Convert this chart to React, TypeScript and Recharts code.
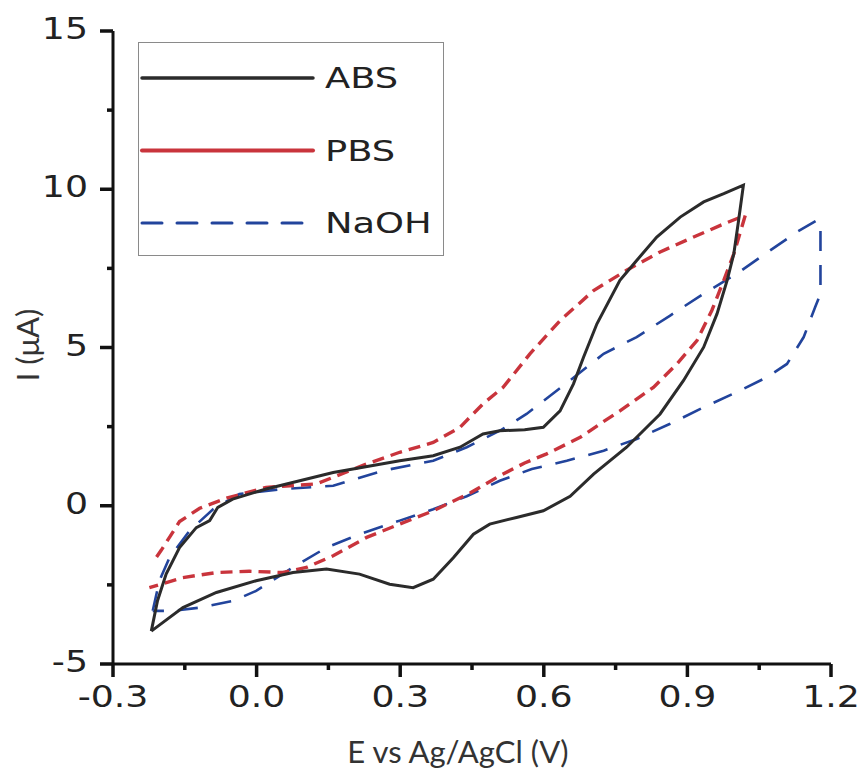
import React from 'react';
import { LineChart, Line, XAxis, YAxis } from 'recharts';

// Tick values
const xMajorTicks = [-0.3, 0, 0.3, 0.6, 0.9, 1.2];
const xAllTicks = [-0.3, -0.15, 0, 0.15, 0.3, 0.45, 0.6, 0.75, 0.9, 1.05, 1.2];
const yMajorTicks = [-5, 0, 5, 10, 15];
const yAllTicks = [-5, -2.5, 0, 2.5, 5, 7.5, 10, 12.5, 15];

// ABS (black, solid)
const absE = [
  -0.220, -0.207, -0.189, -0.161, -0.126, -0.098, -0.081, -0.050, 0.020, 0.160, 0.299, 0.369, 0.425, 0.473,
  0.508, 0.560, 0.599, 0.634, 0.662, 0.683, 0.711, 0.759, 0.794, 0.836, 0.885, 0.934, 0.976, 1.017,
  1.007, 0.997, 0.983, 0.962, 0.934, 0.892, 0.843, 0.773, 0.704, 0.655, 0.599, 0.543, 0.487, 0.453,
  0.411, 0.369, 0.327, 0.278, 0.215, 0.146, 0.076, -0.001, -0.084, -0.154, -0.220,
];
const absI = [
  -3.96, -3.00, -2.16, -1.32, -0.69, -0.47, -0.05, 0.21, 0.53, 1.05, 1.42, 1.58, 1.85, 2.27,
  2.37, 2.40, 2.48, 3.00, 3.85, 4.69, 5.75, 7.12, 7.75, 8.49, 9.12, 9.60, 9.86, 10.13,
  9.02, 7.96, 7.12, 6.07, 5.01, 3.96, 2.90, 1.85, 1.00, 0.30, -0.16, -0.37, -0.58, -0.90,
  -1.64, -2.32, -2.59, -2.48, -2.16, -2.00, -2.11, -2.37, -2.74, -3.22, -3.96,
];

// PBS (red, dashed)
const pbsE = [
  -0.209, -0.199, -0.180, -0.161, -0.119, -0.063, 0.020, 0.125, 0.230, 0.299, 0.369, 0.425, 0.473, 0.515,
  0.571, 0.634, 0.704, 0.773, 0.843, 0.913, 0.969, 1.021,
  0.997, 0.976, 0.951, 0.920, 0.878, 0.829, 0.759, 0.718, 0.676, 0.606, 0.560, 0.508, 0.446, 0.369,
  0.299, 0.230, 0.160, 0.104, 0.055, -0.015, -0.084, -0.154, -0.224,
];
const pbsI = [
  -1.62, -1.40, -0.95, -0.50, -0.08, 0.24, 0.58, 0.69, 1.32, 1.69, 2.00, 2.48, 3.22, 3.74,
  4.80, 5.85, 6.80, 7.44, 8.02, 8.49, 8.86, 9.18,
  7.96, 7.12, 6.17, 5.22, 4.48, 3.74, 3.00, 2.59, 2.16, 1.64, 1.35, 0.95, 0.40, -0.16,
  -0.58, -1.00, -1.58, -1.95, -2.11, -2.07, -2.11, -2.27, -2.59,
];

// NaOH (blue, dashed)
const naohE = [
  -0.217, -0.203, -0.182, -0.140, -0.091, -0.036, 0.055, 0.160, 0.264, 0.369, 0.439, 0.508, 0.564, 0.655,
  0.725, 0.794, 0.864, 0.934, 1.003, 1.073, 1.129, 1.171, 1.178, 1.178, 1.167, 1.143, 1.108, 1.066,
  1.003, 0.934, 0.864, 0.794, 0.725, 0.648, 0.575, 0.508, 0.439, 0.369, 0.299, 0.215, 0.146, 0.076,
  -0.001, -0.050, -0.119, -0.175, -0.217,
];
const naohI = [
  -3.32, -2.37, -1.64, -0.79, -0.11, 0.37, 0.53, 0.63, 1.11, 1.42, 1.85, 2.37, 2.90, 3.96,
  4.80, 5.33, 6.01, 6.70, 7.33, 8.07, 8.65, 9.02, 8.92, 6.70, 6.28, 5.33, 4.48, 4.06,
  3.59, 3.11, 2.59, 2.11, 1.74, 1.42, 1.16, 0.79, 0.30, -0.11, -0.47, -0.90, -1.32, -1.95,
  -2.69, -3.01, -3.22, -3.32, -3.32,
];

const toData = (e: number[], i: number[]) => e.map((v, k) => ({ e: v, i: i[k] }));
const absData = toData(absE, absI);
const pbsData = toData(pbsE, pbsI);
const naohData = toData(naohE, naohI);

const AXIS = '#111';
const C_ABS = '#2b2b2b';
const C_PBS = '#c9343c';
const C_NAOH = '#22449c';
const MAJOR = 13;

const isMajor = (list: number[], v: number) => list.some((m) => Math.abs(m - v) < 1e-6);

// (x, y) sits 2px (default tickMargin) past the outer end of the library's tick line.
// Minor ticks are shortened by masking their outer half with white.
const XTick = (props: any) => {
  const x = Number(props.x);
  const y = Number(props.y);
  const v = Number(props.payload?.value);
  const major = isMajor(xMajorTicks, v);
  if (!major) {
    return <rect x={x - 3} y={y - 9} width={6} height={9} fill="#fff" />;
  }
  return (
    <text
      transform={`translate(${x},${y + 28}) scale(1.17,1)`}
      textAnchor="middle"
      fontSize={31}
      fontFamily="DejaVu Sans"
      fill="#222"
    >
      {v.toFixed(1)}
    </text>
  );
};

const YTick = (props: any) => {
  const x = Number(props.x);
  const y = Number(props.y);
  const v = Number(props.payload?.value);
  const major = isMajor(yMajorTicks, v);
  if (!major) {
    return <rect x={x} y={y - 3} width={9} height={6} fill="#fff" />;
  }
  return (
    <text
      transform={`translate(${x - 10},${y + 8}) scale(1.17,1)`}
      textAnchor="end"
      fontSize={31}
      fontFamily="DejaVu Sans"
      fill="#222"
    >
      {String(v)}
    </text>
  );
};

const legendItems = [
  { name: 'ABS', color: C_ABS, dash: undefined as string | undefined, width: 3.5, x2: 175 },
  { name: 'PBS', color: C_PBS, dash: undefined as string | undefined, width: 4, x2: 175 },
  { name: 'NaOH', color: C_NAOH, dash: '20 15', width: 3, x2: 164 },
];

// Overlay: legend box and axis titles
const Overlay = () => (
  <svg
    width={855}
    height={761}
    style={{ position: 'absolute', left: 0, top: 0, pointerEvents: 'none' }}
  >
    <g transform="translate(130,34)">
      <rect x={0.5} y={0.5} width={305} height={213} fill="#fff" stroke="#8a8a8a" strokeWidth={1} />
      {legendItems.map((it, k) => {
        const cy = 36 + k * 72.5;
        return (
          <g key={it.name}>
            <line
              x1={4}
              x2={it.x2}
              y1={cy}
              y2={cy}
              stroke={it.color}
              strokeWidth={it.width}
              strokeDasharray={it.dash}
              strokeLinecap="round"
            />
            <text
              transform={`translate(187,${cy + 10}) scale(1.27,1)`}
              fontSize={29}
              fontFamily="DejaVu Sans"
              fill="#222"
            >
              {it.name}
            </text>
          </g>
        );
      })}
    </g>
    <text x={450} y={755} textAnchor="middle" fontSize={31} fontFamily="Lato" fill="#333">
      E vs Ag/AgCl (V)
    </text>
    <text
      transform="translate(31,337) rotate(-90)"
      textAnchor="middle"
      fontSize={31}
      fontFamily="Lato"
      fill="#333"
    >
      I (μA)
    </text>
  </svg>
);

export default function App() {
  return (
    <div style={{ position: 'absolute', left: 8, top: 8, width: 855, height: 761 }}>
      <LineChart width={855} height={761} margin={{ top: 23, right: 32, bottom: 45, left: 45 }}>
        <XAxis
          type="number"
          dataKey="e"
          domain={[-0.3, 1.2]}
          ticks={xAllTicks}
          interval={0}
          height={60}
          tickSize={MAJOR}
          tickLine={{ stroke: AXIS, strokeWidth: 3.5 }}
          tick={<XTick />}
          axisLine={{ stroke: AXIS, strokeWidth: 3 }}
        />
        <YAxis
          type="number"
          dataKey="i"
          domain={[-5, 15]}
          ticks={yAllTicks}
          interval={0}
          width={60}
          tickSize={MAJOR}
          tickLine={{ stroke: AXIS, strokeWidth: 3.5 }}
          tick={<YTick />}
          axisLine={{ stroke: AXIS, strokeWidth: 3 }}
        />
        <Line
          data={naohData}
          dataKey="i"
          type="linear"
          stroke={C_NAOH}
          strokeWidth={2.6}
          strokeDasharray="20 14"
          dot={false}
          isAnimationActive={false}
          name="NaOH"
        />
        <Line
          data={pbsData}
          dataKey="i"
          type="linear"
          stroke={C_PBS}
          strokeWidth={3.4}
          strokeDasharray="12 7"
          dot={false}
          isAnimationActive={false}
          name="PBS"
        />
        <Line
          data={absData}
          dataKey="i"
          type="linear"
          stroke={C_ABS}
          strokeWidth={3}
          dot={false}
          isAnimationActive={false}
          name="ABS"
        />
      </LineChart>
      <Overlay />
    </div>
  );
}
